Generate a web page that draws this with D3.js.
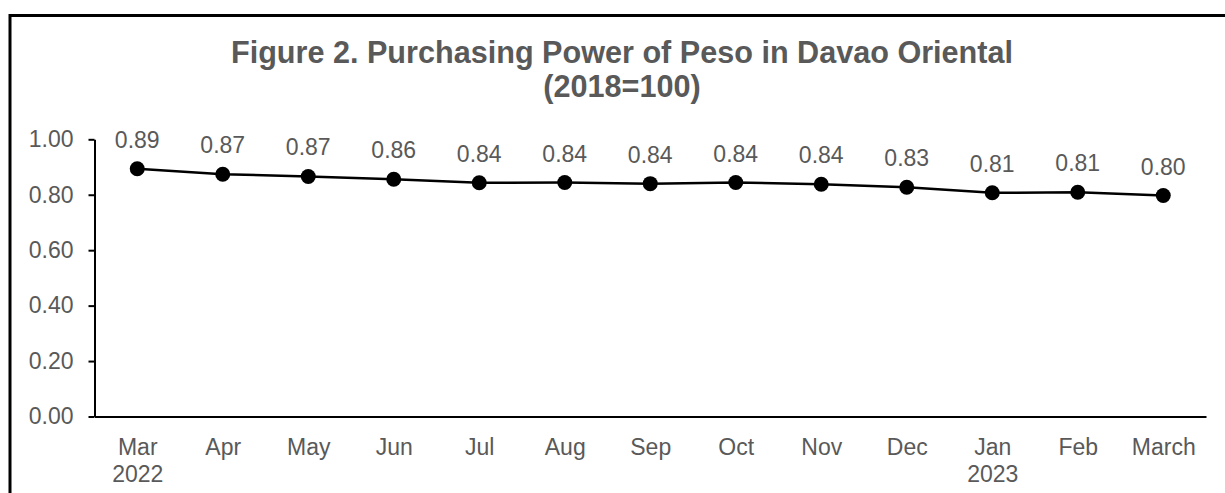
<!DOCTYPE html>
<html>
<head>
<meta charset="utf-8">
<script src="https://cdn.jsdelivr.net/npm/d3@7"></script>
<style>
  html, body { margin: 0; padding: 0; background: #fff; }
  svg { display: block; font-family: "Liberation Sans", Arial, sans-serif; }
</style>
</head>
<body>
<div id="chart"></div>
<script>
const width = 1225;
const height = 493;

// Data
const months = ['Mar', 'Apr', 'May', 'Jun', 'Jul', 'Aug', 'Sep', 'Oct', 'Nov', 'Dec', 'Jan', 'Feb', 'March'];
const years = ['2022', '', '', '', '', '', '', '', '', '', '2023', '', ''];
const values = [0.894, 0.874, 0.866, 0.856, 0.843, 0.844, 0.840, 0.844, 0.838, 0.827, 0.807, 0.809, 0.797];
const yTicks = [0, 0.2, 0.4, 0.6, 0.8, 1.0];
const titleLines = ['Figure 2. Purchasing Power of Peso in Davao Oriental', '(2018=100)'];

const textColor = '#595959';
const fontSize = 23;

const svg = d3.select('#chart').append('svg')
  .attr('width', width)
  .attr('height', height);

// Outer frame (runs off the right and bottom edge like in the source)
svg.append('rect')
  .attr('x', 10)
  .attr('y', 15.5)
  .attr('width', 1300)
  .attr('height', 600)
  .attr('fill', 'none')
  .attr('stroke', '#000')
  .attr('stroke-width', 3);

// Title
svg.append('text')
  .attr('text-anchor', 'middle')
  .attr('fill', textColor)
  .style('font-weight', 'bold')
  .style('font-size', '30.6px')
  .selectAll('tspan')
  .data(titleLines)
  .enter()
  .append('tspan')
  .attr('x', 622)
  .attr('y', (_, i) => 63 + i * 34)
  .text((d) => d);

const x = d3.scalePoint()
  .domain(d3.range(months.length))
  .range([94.5, 1206])
  .padding(0.5);

const y = d3.scaleLinear()
  .domain([0, 1])
  .range([416.5, 139.3]);

// Y axis
const yAxis = svg.append('g')
  .attr('transform', 'translate(94.5,0)')
  .call(d3.axisLeft(y).tickValues(yTicks).tickFormat(d3.format('.2f')).tickSizeInner(6).tickSizeOuter(0).tickPadding(15));
yAxis.select('.domain').attr('stroke', '#000').attr('stroke-width', 2);
yAxis.selectAll('.tick line').attr('stroke', '#000').attr('stroke-width', 2);
yAxis.selectAll('.tick text')
  .attr('fill', textColor)
  .style('font-size', fontSize + 'px')
  .style('font-family', '"Liberation Sans", Arial, sans-serif');

// X axis
const xAxis = svg.append('g')
  .attr('transform', `translate(0,${y(0)})`)
  .call(d3.axisBottom(x).tickSize(0).tickFormat(''));
xAxis.select('.domain').attr('stroke', '#000').attr('stroke-width', 2);

const xLabel = xAxis.selectAll('.tick text')
  .text(null)
  .attr('y', null)
  .attr('dy', null)
  .attr('fill', textColor)
  .style('font-size', fontSize + 'px')
  .style('font-family', '"Liberation Sans", Arial, sans-serif');

xLabel.append('tspan')
  .attr('x', 0)
  .attr('y', 38)
  .text((i) => months[i]);

xLabel.filter((i) => years[i] !== '')
  .append('tspan')
  .attr('x', 0)
  .attr('y', 65)
  .text((i) => years[i]);

// Line
const line = d3.line()
  .x((_, i) => x(i))
  .y((d) => y(d));

svg.append('path')
  .datum(values)
  .attr('d', line)
  .attr('fill', 'none')
  .attr('stroke', '#000')
  .attr('stroke-width', 2.5);

// Markers
svg.selectAll('.dot')
  .data(values)
  .enter()
  .append('circle')
  .attr('class', 'dot')
  .attr('cx', (_, i) => x(i))
  .attr('cy', (d) => y(d))
  .attr('r', 7.5)
  .attr('fill', '#000');

// Data labels
svg.selectAll('.label')
  .data(values)
  .enter()
  .append('text')
  .attr('class', 'label')
  .attr('x', (_, i) => x(i))
  .attr('y', (d) => y(d) - 21)
  .attr('text-anchor', 'middle')
  .attr('fill', textColor)
  .style('font-size', fontSize + 'px')
  .text((d) => d3.format('.2f')(d));
</script>
</body>
</html>
